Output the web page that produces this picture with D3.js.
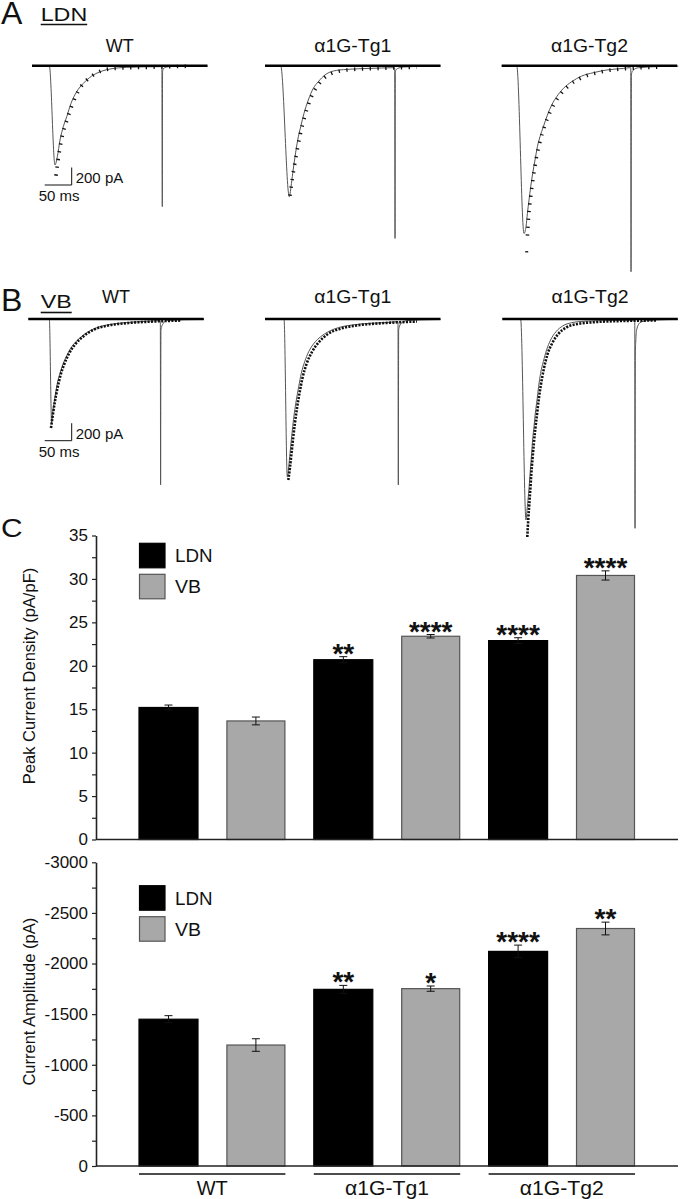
<!DOCTYPE html>
<html><head><meta charset="utf-8">
<script src="https://cdn.jsdelivr.net/npm/d3@7"></script>
<style>
body{margin:0;background:#fff}
svg{display:block}
text{font-family:"Liberation Sans",Arial,Helvetica,sans-serif;fill:#111}
</style></head>
<body><svg id="fig" width="680" height="1199"></svg>
<script>
// ---------------- DATA ----------------
const groups = ["WT", "α1G-Tg1", "α1G-Tg2"];
const regions = ["LDN", "VB"];

// Panel C (top): peak current density (pA/pF)
const densityLDN = [15.2, 20.7, 22.9];
const densityLDNErr = [0.28, 0.35, 0.33];
const densityVB = [13.65, 23.4, 30.4];
const densityVBErr = [0.45, 0.2, 0.53];
const densitySigLDN = ["", "**", "****"];
const densitySigVB = ["", "****", "****"];
const densityTicks = [0, 2.5, 5, 7.5, 10, 12.5, 15, 17.5, 20, 22.5, 25, 27.5, 30, 32.5, 35];

// Panel C (bottom): current amplitude (pA)
const amplitudeLDN = [-1450, -1745, -2120];
const amplitudeLDNErr = [35, 39, 62];
const amplitudeVB = [-1195, -1752, -2346];
const amplitudeVBErr = [62, 26, 63];
const amplitudeSigLDN = ["", "**", "****"];
const amplitudeSigVB = ["", "*", "**"];
const amplitudeTicks = [0, -250, -500, -750, -1000, -1250, -1500, -1750, -2000, -2250, -2500, -2750, -3000];

// Panel A (LDN) example traces: time (ms), current (pA)
const ldnWtT = [0, 32, 42.6, 46.9, 51.9, 58, 64.3, 72.2, 82.8, 95, 110.6, 126, 144.4, 175.4, 237, 240.5, 241.3, 241.8, 243.2, 249.5, 259, 290, 325];
const ldnWtI = [0, 0, -1135, -1040, -849, -697, -583, -431, -297, -202, -118, -69, -38, -19, -11, -11, -1611, -69, -34, -15, -8, -4, -3];
const ldnWtFitT = [44.4, 48.1, 54.6, 66.7, 85.2, 111, 148, 222, 292];
const ldnWtFitI = [-1257, -1086, -846, -583, -297, -118, -34, -17, -6];

const ldnTg1T = [0, 29, 45, 48.2, 51.3, 55.6, 60.6, 66.1, 72.2, 80.2, 89.4, 98.7, 111, 126.5, 151.3, 194.5, 237.6, 240.2, 240.8, 241.3, 242.4, 245.8, 256, 290, 325];
const ldnTg1I = [0, 0, -1497, -1383, -1231, -1040, -849, -697, -545, -392, -259, -183, -106, -61, -42, -31, -23, -23, -1974, -80, -50, -31, -15, -8, -5];
const ldnTg1FitT = [46.3, 50.9, 57.4, 64.8, 74, 85.2, 100, 122, 157, 222, 281];
const ldnTg1FitI = [-1486, -1280, -1040, -800, -571, -366, -206, -91, -46, -29, -17];

const ldnTg2T = [0, 27.8, 41.3, 45, 47.6, 50.6, 53.7, 57.4, 61.7, 66.1, 70.9, 77.2, 84.6, 92.6, 101.9, 114.3, 129.6, 148.2, 169.8, 194.5, 225.4, 237.6, 239, 239.5, 240.2, 241.2, 243.9, 253, 290, 327];
const ldnTg2I = [0, 0, -1917, -1840, -1688, -1535, -1383, -1231, -1078, -926, -812, -697, -564, -449, -354, -259, -183, -118, -80, -49, -31, -23, -23, -2355, -107, -75, -50, -23, -10, -5];
const ldnTg2FitT = [47.6, 50, 53.7, 58.3, 63.9, 70.4, 79.6, 90.7, 105.6, 124, 148, 185, 241, 296];
const ldnTg2FitI = [-1943, -1714, -1497, -1280, -1063, -880, -686, -514, -354, -229, -137, -69, -29, -17];
const ldnTg2StrayT = [46.3];
const ldnTg2StrayI = [-2126];

// Panel B (VB) example traces
const vbWtT = [0, 38.9, 43.2, 45, 47.6, 50.6, 53.7, 58.7, 64.8, 70.9, 78.3, 88.3, 100.6, 114.3, 132.8, 157.4, 188.3, 219.1, 240.8, 244.5, 245, 245.6, 246.9, 250, 256, 290, 325];
const vbWtI = [0, 0, -1192, -1078, -964, -849, -735, -621, -506, -423, -335, -259, -191, -134, -88, -57, -38, -26, -19, -19, -1897, -126, -90, -50, -19, -8, -5];
const vbWtFitT = [42, 45.4, 49.1, 53.7, 59.3, 66.7, 75.9, 88.9, 103.7, 122, 148, 185, 231, 283];
const vbWtFitI = [-1246, -1097, -949, -800, -651, -514, -389, -274, -189, -120, -74, -46, -29, -17];

const vbTg1T = [0, 35.2, 41.3, 43.9, 46.3, 48.7, 51.3, 54.3, 58, 62.4, 67.2, 73.5, 80.9, 90.7, 103.2, 117.2, 135.7, 160.6, 194.5, 231.5, 243.9, 246.3, 246.9, 247.5, 248.7, 253.2, 262.4, 290, 325];
const vbTg1I = [0, 0, -1802, -1688, -1535, -1383, -1231, -1078, -926, -774, -621, -488, -374, -278, -202, -145, -99, -69, -49, -38, -31, -31, -1897, -126, -90, -42, -19, -10, -5];
const vbTg1FitT = [43.2, 46.3, 49.1, 51.9, 55.2, 59.3, 63.9, 69.4, 76.9, 87, 100, 116.7, 140.7, 176, 222, 281.5];
const vbTg1FitI = [-1840, -1692, -1532, -1372, -1200, -1017, -846, -674, -514, -377, -263, -171, -109, -69, -46, -29];

const vbTg2T = [0, 33.9, 43.9, 46.3, 48.7, 50.6, 52.4, 54.3, 56.1, 58.7, 61.1, 64.3, 67.2, 70.9, 75.9, 82, 89.4, 99.4, 111.7, 128.3, 150, 180.9, 242.6, 245.3, 245.8, 246.3, 247.2, 248.7, 255, 267, 290, 325];
const vbTg2I = [0, 0, -2297, -2145, -1992, -1840, -1688, -1535, -1383, -1231, -1078, -926, -774, -621, -488, -354, -240, -145, -80, -42, -26, -19, -15, -15, -2392, -411, -250, -126, -42, -19, -10, -5];
const vbTg2FitT = [46.3, 48.1, 50, 51.9, 53.7, 55.9, 58.3, 61.1, 64.3, 67.6, 71.7, 76.9, 83.3, 92.6, 103.7, 118.5, 139, 176, 222, 287];
const vbTg2FitI = [-2492, -2286, -2115, -1943, -1772, -1600, -1429, -1257, -1086, -914, -743, -571, -411, -274, -171, -97, -57, -34, -23, -17];

const traceSpan = 325;            // ms of baseline shown
const scaleBarTime = 50;          // ms
const scaleBarCurrent = 200;      // pA

// ---------------- LAYOUT ----------------
const svg = d3.select("#fig");
const PX_PER_MS = 0.54;
const PX_PER_200PA = 17.5;

function fitLabel(sel, txt, len) {
  sel.text(txt);
  if (txt.startsWith("α")) sel.attr("textLength", len).attr("lengthAdjust", "spacingAndGlyphs");
  return sel;
}

function drawTrace(x0, y0, tArr, iArr, fitT, fitI, dash, dashW, title, titleY) {
  const g = svg.append("g");
  const xs = d3.scaleLinear().domain([0, traceSpan]).range([x0, x0 + traceSpan * PX_PER_MS]);
  const ys = d3.scaleLinear().domain([0, -200]).range([y0, y0 + PX_PER_200PA]);
  const line = d3.line().x(d => xs(d[0])).y(d => ys(d[1])).curve(d3.curveMonotoneX);
  g.append("path").datum(d3.zip(tArr, iArr)).attr("d", line)
    .attr("fill", "none").attr("stroke", "#555").attr("stroke-width", 1);
  g.append("path").datum(d3.zip(fitT, fitI)).attr("d", line)
    .attr("fill", "none").attr("stroke", "#111").attr("stroke-width", dashW)
    .attr("stroke-dasharray", dash);
  g.append("line").attr("x1", xs(0)).attr("x2", xs(traceSpan))
    .attr("y1", ys(0)).attr("y2", ys(0)).attr("stroke", "#000").attr("stroke-width", 2.6);
  fitLabel(g.append("text").attr("x", xs(traceSpan / 2)).attr("y", titleY)
    .attr("text-anchor", "middle").attr("font-size", 18), title, 77);
  return { xs, ys, g };
}

function scaleBar(sc, cx, cy) {
  const h = sc.xs(scaleBarTime) - sc.xs(0);
  const v = sc.ys(-scaleBarCurrent) - sc.ys(0);
  const g = svg.append("g").attr("stroke", "#111").attr("stroke-width", 1);
  g.append("line").attr("x1", cx).attr("x2", cx).attr("y1", cy).attr("y2", cy - v);
  g.append("line").attr("x1", cx - h).attr("x2", cx).attr("y1", cy).attr("y2", cy);
  svg.append("text").attr("x", cx + 4).attr("y", cy - 6).attr("dominant-baseline", "middle")
    .attr("font-size", 15).text(scaleBarCurrent + " pA");
  svg.append("text").attr("x", cx - h - 6).attr("y", cy + 12.5).attr("dominant-baseline", "middle")
    .attr("font-size", 15).text(scaleBarTime + " ms");
}

// Panel letters / headers
function header(letter, lx, ly, word, wx, wy, wLen, ulY) {
  svg.append("text").attr("x", lx).attr("y", ly).attr("font-size", 32).text(letter);
  svg.append("text").attr("x", wx).attr("y", wy).attr("font-size", 18)
    .attr("textLength", wLen).attr("lengthAdjust", "spacingAndGlyphs").text(word);
  svg.append("line").attr("x1", wx).attr("x2", wx + wLen).attr("y1", ulY).attr("y2", ulY)
    .attr("stroke", "#111").attr("stroke-width", 1.6);
}
header("A", 1, 24, regions[0], 40.7, 20.5, 46.5, 24.5);
header("B", 1, 311, regions[1], 40.7, 307.5, 31, 312.5);

const dashA = "1.3,6.5", dashB = "2.1,1.3";
const aWT = drawTrace(32, 65.7, ldnWtT, ldnWtI, ldnWtFitT, ldnWtFitI, dashA, 3.6, groups[0], 51.7);
drawTrace(265, 65.7, ldnTg1T, ldnTg1I, ldnTg1FitT, ldnTg1FitI, dashA, 3.6, groups[1], 51.7);
const aTg2 = drawTrace(501.7, 65.7, ldnTg2T, ldnTg2I, ldnTg2FitT, ldnTg2FitI, dashA, 3.6, groups[2], 51.7);
aTg2.g.selectAll("rect.stray").data(d3.zip(ldnTg2StrayT, ldnTg2StrayI)).join("rect")
  .attr("x", d => aTg2.xs(d[0]) - 1.5).attr("y", d => aTg2.ys(d[1]) - 0.6)
  .attr("width", 3).attr("height", 1.3).attr("fill", "#111");
scaleBar(aWT, 71.7, 185);

const bWT = drawTrace(28.3, 319, vbWtT, vbWtI, vbWtFitT, vbWtFitI, dashB, 2.6, groups[0], 303.3);
drawTrace(265, 319, vbTg1T, vbTg1I, vbTg1FitT, vbTg1FitI, dashB, 2.6, groups[1], 303.3);
drawTrace(502.3, 319, vbTg2T, vbTg2I, vbTg2FitT, vbTg2FitI, dashB, 2.6, groups[2], 303.3);
scaleBar(bWT, 71.7, 440.7);

// Panel C
svg.append("text").attr("x", 1).attr("y", 536.5).attr("font-size", 26)
  .attr("textLength", 21.6).attr("lengthAdjust", "spacingAndGlyphs").text("C");

const barKeys = [];
groups.forEach(g => regions.forEach(r => barKeys.push(g + "|" + r)));
const xBand = d3.scaleBand().domain(barKeys).range([96, 678]).paddingInner(0.325).paddingOuter(0.492);
const fillOf = { LDN: "#000", VB: "#a8a8a8" };
const strokeOf = { LDN: "#000", VB: "#555" };

function barChart(opts) {
  const y = d3.scaleLinear().domain(opts.domain).range(opts.range);
  const g = svg.append("g");
  const rows = [];
  groups.forEach((gr, i) => {
    rows.push({ key: gr + "|LDN", reg: "LDN", v: opts.ldn[i], e: opts.ldnErr[i], s: opts.ldnSig[i] });
    rows.push({ key: gr + "|VB", reg: "VB", v: opts.vb[i], e: opts.vbErr[i], s: opts.vbSig[i] });
  });
  const bw = xBand.bandwidth();
  g.selectAll("rect.bar").data(rows).join("rect").attr("class", "bar")
    .attr("x", d => xBand(d.key) + (d.reg === "VB" ? 0.5 : 0))
    .attr("width", d => bw - (d.reg === "VB" ? 1 : 0))
    .attr("y", d => y(d.v)).attr("height", d => y(0) - y(d.v))
    .attr("fill", d => fillOf[d.reg]).attr("stroke", d => strokeOf[d.reg]).attr("stroke-width", 1.2);
  const sgn = opts.domain[1] < 0 ? -1 : 1;
  const eg = g.append("g").attr("stroke", "#111").attr("stroke-width", 1);
  rows.forEach(d => {
    const cx = xBand(d.key) + bw / 2;
    const yt = y(d.v + sgn * d.e), yb = y(d.v - sgn * d.e);
    eg.append("line").attr("x1", cx).attr("x2", cx).attr("y1", yt).attr("y2", yb);
    eg.append("line").attr("x1", cx - 4).attr("x2", cx + 4).attr("y1", yt).attr("y2", yt);
    eg.append("line").attr("x1", cx - 4).attr("x2", cx + 4).attr("y1", yb).attr("y2", yb);
    if (d.s) {
      g.append("text").attr("x", cx).attr("y", yt + 6).attr("text-anchor", "middle")
        .attr("font-size", 28).attr("font-weight", "bold").text(d.s);
    }
  });
  // axes
  const ax = d3.axisLeft(y).tickValues(opts.ticks).tickSize(4).tickSizeOuter(0).tickPadding(4)
    .tickFormat(d => (d % opts.labelStep === 0 ? d : ""));
  const axg = svg.append("g").attr("transform", "translate(96,0)").call(ax);
  axg.select(".domain").attr("stroke", "#222").attr("stroke-width", 1.6);
  axg.selectAll(".tick line").attr("stroke", "#222").attr("stroke-width", 1.2);
  axg.selectAll(".tick text").attr("font-size", 17).attr("fill", "#111")
    .attr("font-family", "'Liberation Sans',Arial,sans-serif");
  svg.append("line").attr("x1", 96).attr("x2", 678).attr("y1", y(0)).attr("y2", y(0))
    .attr("stroke", "#222").attr("stroke-width", 1.6);
  svg.append("text").attr("transform", `translate(35,${opts.labelY}) rotate(-90)`)
    .attr("text-anchor", "middle").attr("font-size", 16.5).text(opts.label);
  // legend
  const lx = xBand(barKeys[0]);
  regions.forEach((r, i) => {
    const ly = opts.legendY + i * 31;
    svg.append("rect").attr("x", lx + 0.5).attr("y", ly).attr("width", 25.5).attr("height", 24.5)
      .attr("fill", fillOf[r]).attr("stroke", strokeOf[r]).attr("stroke-width", 1.2);
    svg.append("text").attr("x", lx + 36).attr("y", ly + 12.5 + 6.4).attr("font-size", 18)
      .attr("textLength", r === "LDN" ? 37.5 : 26).attr("lengthAdjust", "spacingAndGlyphs").text(r);
  });
  return y;
}

barChart({
  domain: [0, 35], range: [839.5, 535.5], ldn: densityLDN, ldnErr: densityLDNErr, ldnSig: densitySigLDN,
  vb: densityVB, vbErr: densityVBErr, vbSig: densitySigVB, ticks: densityTicks, labelStep: 5,
  label: "Peak Current Density (pA/pF)", labelY: 676, legendY: 543.3
});
barChart({
  domain: [0, -3000], range: [1166, 862.3], ldn: amplitudeLDN, ldnErr: amplitudeLDNErr, ldnSig: amplitudeSigLDN,
  vb: amplitudeVB, vbErr: amplitudeVBErr, vbSig: amplitudeSigVB, ticks: amplitudeTicks, labelStep: 500,
  label: "Current Amplitude (pA)", labelY: 1001.7, legendY: 885.7
});

// group brackets under bottom chart
groups.forEach(gr => {
  const x1 = xBand(gr + "|LDN"), x2 = xBand(gr + "|VB") + xBand.bandwidth();
  svg.append("line").attr("x1", x1).attr("x2", x2).attr("y1", 1174).attr("y2", 1174)
    .attr("stroke", "#111").attr("stroke-width", 1.6);
  fitLabel(svg.append("text").attr("x", (x1 + x2) / 2).attr("y", 1194.5).attr("text-anchor", "middle")
    .attr("font-size", 20), gr, 84);
});
</script></body></html>
